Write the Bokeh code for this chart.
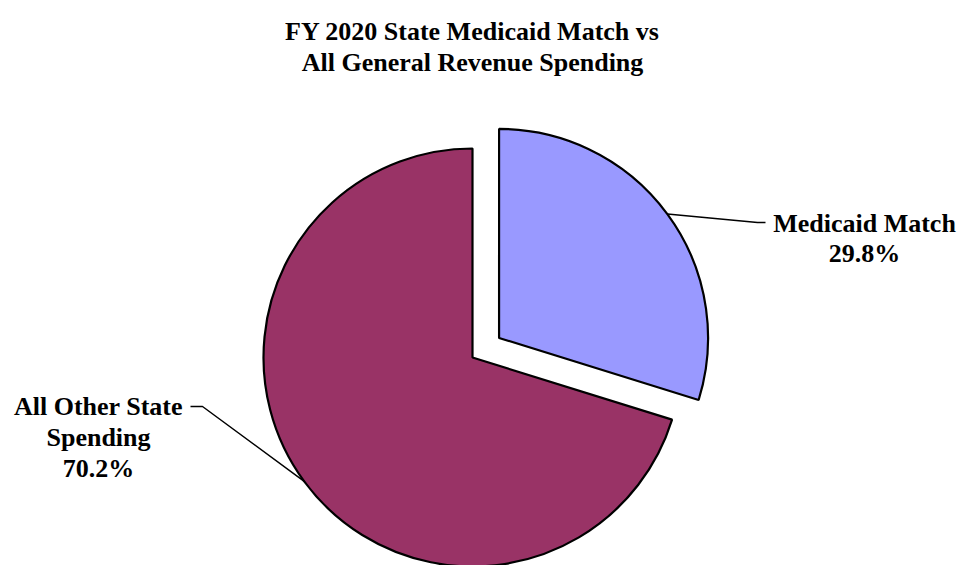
import math
from bokeh.plotting import figure
from bokeh.models import Range1d, ColumnDataSource
from bokeh.core.properties import value
from bokeh.embed import file_html
from bokeh.resources import INLINE

# ---- data ----
categories = ["Medicaid Match", "All Other State Spending"]
shares = [29.8, 70.2]
label_lines = [["Medicaid Match", "29.8%"], ["All Other State", "Spending", "70.2%"]]
colors = ["#9999FF", "#993366"]
explode = [33, 0]
title_lines = ["FY 2020 State Medicaid Match vs", "All General Revenue Spending"]

# ---- layout (pixel based, y measured from top) ----
W, H = 963, 565
CX, CY_TOP, R = 472, 357, 209
FONT = "Liberation Serif"

def Y(ypx):
    return H - ypx

p = figure(width=W, height=H, x_range=Range1d(0, W), y_range=Range1d(0, H),
           output_backend="svg", toolbar_location=None, min_border=0,
           x_axis_type=None, y_axis_type=None)
p.grid.visible = False
p.outline_line_color = None
p.background_fill_color = "white"
p.border_fill_color = "white"

# wedges
xs, ys, starts, ends, mids = [], [], [], [], []
cum = 0.0
for s, ex in zip(shares, explode):
    a0 = 90 - cum * 3.6
    a1 = 90 - (cum + s) * 3.6
    mid = math.radians((a0 + a1) / 2)
    xs.append(CX + ex * math.cos(mid))
    ys.append(Y(CY_TOP) + ex * math.sin(mid))
    starts.append(math.radians(a1))
    ends.append(math.radians(a0))
    mids.append(mid)
    cum += s

src = ColumnDataSource(dict(x=xs, y=ys, start=starts, end=ends, color=colors, cat=categories))
p.wedge(x="x", y="y", radius=R, start_angle="start", end_angle="end",
        fill_color="color", line_color="black", line_width=2.2, source=src)

# leader lines (start on slice edge at mid angle)
lead_ends = [[(757, 222), (765, 222)], [(202, 406), (190, 406)]]
for i in range(2):
    sx = xs[i] + R * math.cos(mids[i])
    sy = ys[i] + R * math.sin(mids[i])
    lx = [sx] + [pt[0] for pt in lead_ends[i]]
    ly = [sy] + [Y(pt[1]) for pt in lead_ends[i]]
    p.line(lx, ly, line_color="black", line_width=1.5)

# labels
label_pos = [(864, [223, 253]), (98, [406, 437, 468])]
for lines, (lx, bases) in zip(label_lines, label_pos):
    p.text(x=[lx] * len(lines), y=[Y(b) for b in bases], text=lines,
           text_font=value(FONT), text_font_style="bold", text_font_size="26px",
           text_align="center", text_baseline="alphabetic", text_color="black")

# title
p.text(x=[472, 472], y=[Y(30.5), Y(61.5)], text=title_lines,
       text_font=value(FONT), text_font_style="bold", text_font_size="26px",
       text_align="center", text_baseline="alphabetic", text_color="black")

open("out.html", "w").write(file_html(p, INLINE))
